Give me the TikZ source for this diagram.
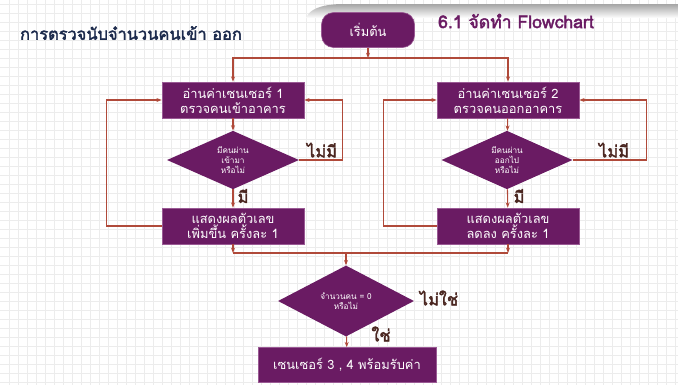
\documentclass[tikz,border=0pt]{standalone}
\usepackage{fontspec}
\newfontfamily\thaifont[Script=Thai,AutoFakeBold=2.5]{Loma}
\newfontfamily\thaiheavy[Script=Thai,FakeBold=2.2]{Loma}
\usetikzlibrary{arrows.meta}
\usetikzlibrary{shapes.geometric}
\usetikzlibrary{positioning}

\definecolor{boxpurple}{HTML}{6A1B63}
\definecolor{boxedge}{HTML}{9A5A94}
\definecolor{flowred}{HTML}{B04A3A}
\definecolor{labelbrown}{HTML}{4A2620}
\definecolor{titleblue}{HTML}{1C2A4C}
\definecolor{gridgray}{HTML}{ECECEC}

\tikzset{
    every node/.style={font=\thaifont},
    gridline/.style={gridgray, line width=0.4pt},
    procbox/.style={rectangle, fill=boxpurple, draw=boxedge, line width=0.5pt, text=white,
        minimum width=4.26cm, minimum height=1.08cm, align=center,
        font=\thaifont\fontsize{11}{13}\selectfont},
    decide/.style={diamond, fill=boxpurple, draw=none, text=white, inner sep=0pt,
        align=center, font=\thaifont\fontsize{7}{8.5}\selectfont},
    answer/.style={text=labelbrown, font=\thaiheavy\fontsize{14}{16}\selectfont},
    flow/.style={flowred, line width=0.9pt, -{Stealth[length=1.6mm]}},
    joint/.style={flowred, line width=0.9pt},
}

\begin{document}
\begin{tikzpicture}[x=0.03cm, y=-0.03cm]

    \useasboundingbox (0,0) rectangle (678,385);
    \fill[white] (0,0) rectangle (678,385);

    % background grid
    \foreach \gx in {9,18,...,675} \draw[gridline] (\gx,0) -- (\gx,385);
    \foreach \gy in {4,13,...,385} \draw[gridline] (0,\gy) -- (678,\gy);

    % grey band on top
    \shade[top color=black!35, bottom color=white]
        (306,18) .. controls (310,9) and (320,5) .. (340,4) -- (678,4) -- (678,18) -- cycle;

    % titles
    \node[anchor=west, text=titleblue, font=\thaiheavy\fontsize{14}{16}\selectfont] (title) at (16,33) {การตรวจนับจำนวนคนเข้า ออก};
    \node[anchor=west, text=boxpurple, font=\thaiheavy\fontsize{15}{17}\selectfont] (heading) at (434,21) {6.1 จัดทำ Flowchart};

    % start
    \node[procbox, rounded corners=0.36cm, minimum width=2.79cm, minimum height=1.05cm] (start) at (368,30) {เริ่มต้น};
    \coordinate (split) at (368,58);

    % left branch
    \node[procbox] (read1) at (233,100) {อ่านค่าเซนเซอร์ 1\\ตรวจคนเข้าอาคาร};
    \node[decide, minimum width=3.96cm, minimum height=1.68cm] (check1) at (233,160) {มีคนผ่าน\\เข้ามา\\หรือไม่};
    \node[procbox] (show1) at (233,226) {แสดงผลตัวเลข\\เพิ่มขึ้น ครั้งละ 1};
    \node[answer] (no1) at (322,150) {ไม่มี};
    \node[answer] (yes1) at (243,196) {มี};

    % right branch
    \node[procbox] (read2) at (508,100) {อ่านค่าเซนเซอร์ 2\\ตรวจคนออกอาคาร};
    \node[decide, minimum width=3.93cm, minimum height=1.65cm] (check2) at (507,160) {มีคนผ่าน\\ออกไป\\หรือไม่};
    \node[procbox] (show2) at (508,226) {แสดงผลตัวเลข\\ลดลง ครั้งละ 1};
    \node[answer] (no2) at (614,150) {ไม่มี};
    \node[answer] (yes2) at (519,196) {มี};

    % bottom
    \coordinate (merge1) at (233,253);
    \coordinate (merge2) at (508,253);
    \coordinate (merge) at (346,253);
    \node[decide, minimum width=4.08cm, minimum height=2.13cm] (check3) at (346,301) {จำนวนคน = 0\\หรือไม่};
    \node[procbox, minimum width=5.34cm, minimum height=1.05cm] (ready) at (347,365) {เซนเซอร์ 3 , 4 พร้อมรับค่า};
    \node[answer] (no3) at (439,298) {ไม่ใช่};
    \node[answer] (yes3) at (381,334) {ใช่};

    % connectors
    \draw[flow] (start) -- (split);
    \draw[flow] (split) -| (read1);
    \draw[flow] (split) -| (read2);

    \draw[flow] (read1) -- (check1);
    \draw[flow] (check1) -- (show1);
    \draw[flow] (check1.east) -- ++(43,0) |- (read1.east);
    \draw[flow] (show1.west) -- ++(-55,0) |- (read1.west);

    \draw[flow] (read2) -- (check2);
    \draw[flow] (check2) -- (show2);
    \draw[flow] (check2.east) -- ++(74,0) |- (read2.east);
    \draw[flow] (show2.west) -- ++(-53,0) |- (read2.west);

    \draw[flow] (show1) -- (merge1);
    \draw[flow] (show2) -- (merge2);
    \draw[joint] (merge1) -- (merge2);
    \draw[flow] (merge) -- (check3);
    \draw[flow] (check3) -- (ready);

\end{tikzpicture}
\end{document}
